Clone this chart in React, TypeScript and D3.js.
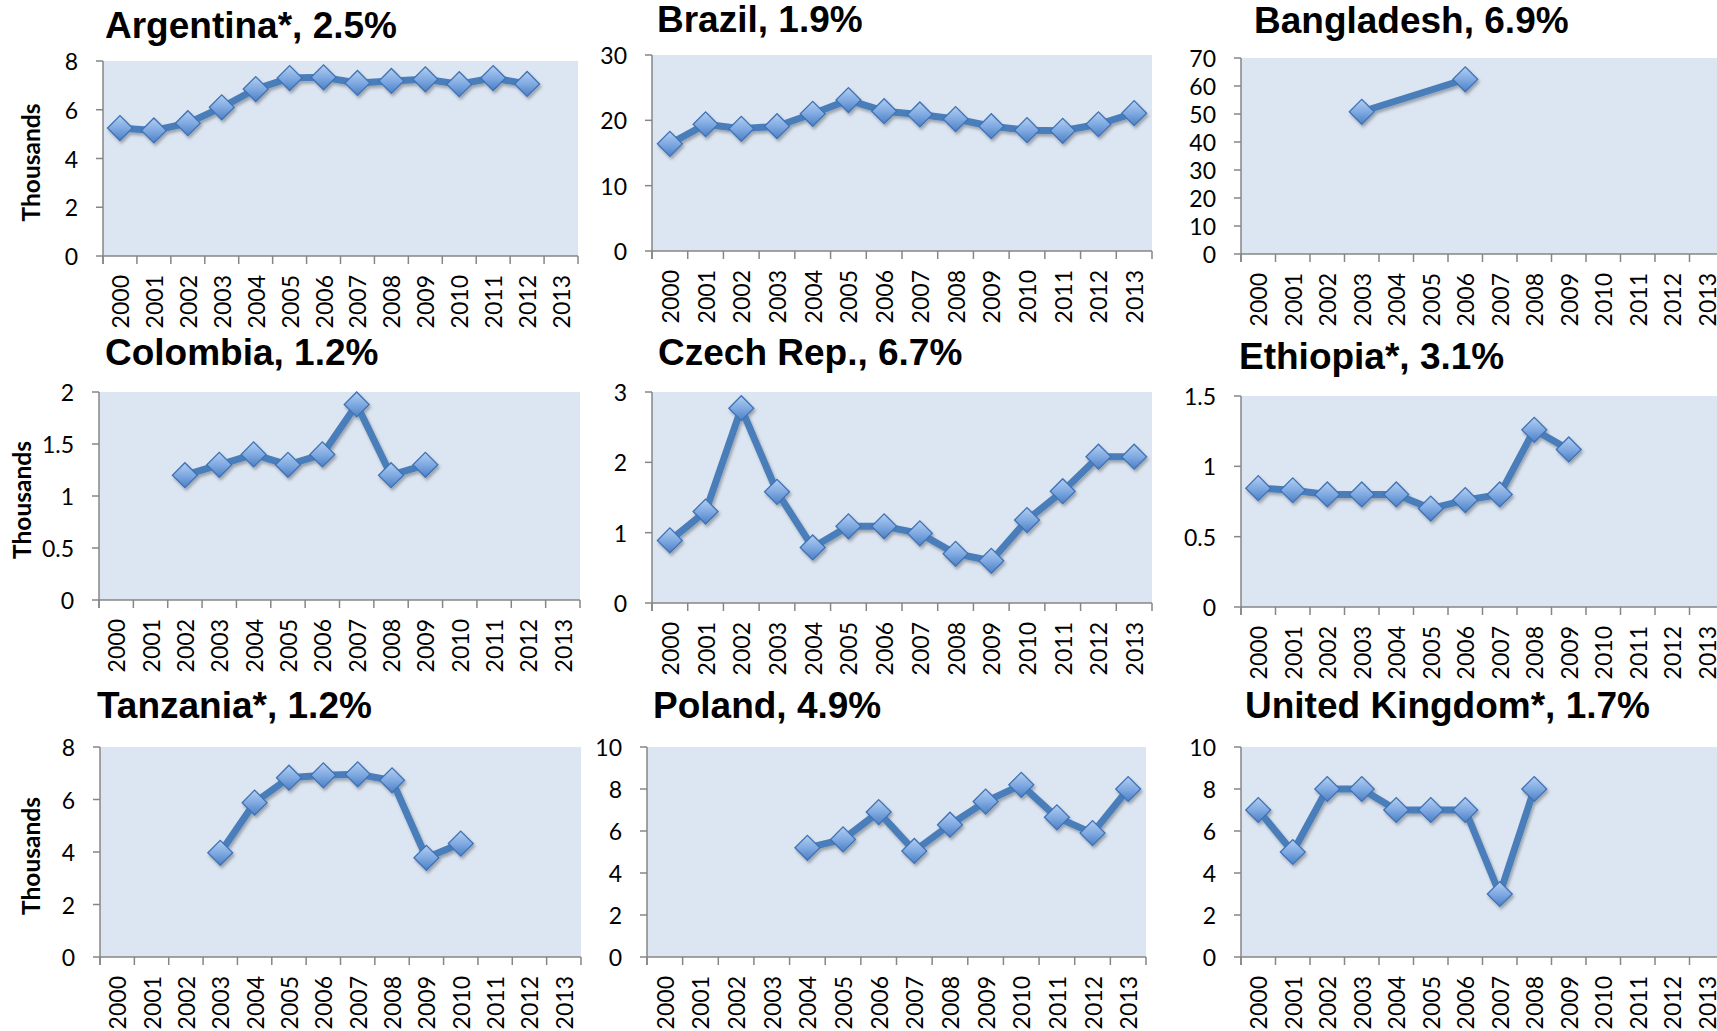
import React from "react";
import * as d3 from "d3";

// years on the category axis
const years = ["2000", "2001", "2002", "2003", "2004", "2005", "2006", "2007", "2008", "2009", "2010", "2011", "2012", "2013"];

// values in thousands, null = no data
const argentina = [5.25, 5.15, 5.45, 6.1, 6.85, 7.3, 7.33, 7.1, 7.18, 7.25, 7.05, 7.3, 7.06, null];
const brazil = [16.4, 19.4, 18.7, 19.1, 21.0, 23.1, 21.4, 20.9, 20.2, 19.1, 18.5, 18.4, 19.4, 21.1];
const bangladesh = [null, null, null, 50.8, null, null, 62.4, null, null, null, null, null, null, null];
const colombia = [null, null, 1.2, 1.3, 1.4, 1.3, 1.4, 1.88, 1.2, 1.3, null, null, null, null];
const czech = [0.89, 1.3, 2.77, 1.58, 0.79, 1.09, 1.09, 0.99, 0.7, 0.6, 1.18, 1.59, 2.08, 2.08];
const ethiopia = [0.845, 0.83, 0.8, 0.8, 0.8, 0.7, 0.76, 0.8, 1.26, 1.12, null, null, null, null];
const tanzania = [null, null, null, 3.97, 5.88, 6.83, 6.92, 6.96, 6.73, 3.78, 4.32, null, null, null];
const poland = [null, null, null, null, 5.2, 5.6, 6.9, 5.05, 6.3, 7.4, 8.2, 6.65, 5.9, 8.0];
const uk = [7.0, 5.0, 8.0, 8.0, 7.0, 7.0, 7.0, 3.0, 8.0, null, null, null, null, null];

const titles = [
  "Argentina*, 2.5%", "Brazil, 1.9%", "Bangladesh, 6.9%",
  "Colombia, 1.2%", "Czech Rep., 6.7%", "Ethiopia*, 3.1%",
  "Tanzania*, 1.2%", "Poland, 4.9%", "United Kingdom*, 1.7%",
];
const seriesList = [argentina, brazil, bangladesh, colombia, czech, ethiopia, tanzania, poland, uk];
const yMax = [8, 30, 70, 2, 3, 1.5, 8, 10, 10];
const yStep = [2, 10, 10, 0.5, 1, 0.5, 2, 2, 2];
const showThousands = [true, false, false, true, false, false, true, false, false];

// layout of each panel (plot box, title, axis label)
const layout = [
  { x0: 103, x1: 578, y0: 61, y1: 256, tx: 105, ty: 38, lx: 30 },
  { x0: 652, x1: 1152, y0: 55, y1: 251, tx: 657, ty: 32 },
  { x0: 1241, x1: 1724, y0: 58, y1: 254, tx: 1254, ty: 33 },
  { x0: 99, x1: 580, y0: 392, y1: 600, tx: 105, ty: 365, lx: 21 },
  { x0: 652, x1: 1152, y0: 392, y1: 603, tx: 658, ty: 365 },
  { x0: 1241, x1: 1724, y0: 396, y1: 607, tx: 1239, ty: 369 },
  { x0: 100, x1: 581, y0: 747, y1: 957, tx: 97, ty: 718, lx: 30 },
  { x0: 647, x1: 1146, y0: 747, y1: 957, tx: 653, ty: 718 },
  { x0: 1241, x1: 1724, y0: 747, y1: 957, tx: 1245, ty: 718 },
];

const BG = "#dce6f2";
const AXIS = "#868686";
const LINE = "#4a7ebb";
const tickFont = "Lato, 'Open Sans', sans-serif";
const titleFont = "'Liberation Sans', Arial, sans-serif";

const diamond = d3.symbol(d3.symbolSquare, 310)();

function Panel({ i }: { i: number }) {
  const L = layout[i];
  const values = seriesList[i];
  const x = d3.scaleBand().domain(years).range([L.x0, L.x1]);
  const y = d3.scaleLinear().domain([0, yMax[i]]).range([L.y1, L.y0]);
  const ticks = d3.range(0, yMax[i] + yStep[i] / 2, yStep[i]);
  const pts = years
    .map((yr, k) => ({ yr, v: values[k] }))
    .filter((d) => d.v !== null) as { yr: string; v: number }[];
  const line = d3
    .line<{ yr: string; v: number }>()
    .x((d) => (x(d.yr) as number) + x.bandwidth() / 2)
    .y((d) => y(d.v));
  const bounds = years.map((yr) => x(yr) as number).concat([L.x1]);

  return (
    <g>
      <text x={L.tx} y={L.ty} fontFamily={titleFont} fontWeight="bold" fontSize={37} fill="#000">
        {titles[i]}
      </text>
      <rect x={L.x0} y={L.y0} width={L.x1 - L.x0} height={L.y1 - L.y0} fill={BG} />
      {/* y axis */}
      <line x1={L.x0} x2={L.x0} y1={L.y0} y2={L.y1 + 8} stroke={AXIS} strokeWidth={1.5} />
      {ticks.map((t) => (
        <g key={t}>
          <line x1={L.x0 - 7} x2={L.x0} y1={y(t)} y2={y(t)} stroke={AXIS} strokeWidth={1.5} />
          <text
            x={L.x0 - 25}
            y={y(t)}
            textAnchor="end"
            dominantBaseline="central"
            fontFamily={tickFont}
            fontSize={23}
            fill="#000"
          >
            {t}
          </text>
        </g>
      ))}
      {/* x axis */}
      <line x1={L.x0} x2={L.x1} y1={L.y1} y2={L.y1} stroke={AXIS} strokeWidth={1.5} />
      {bounds.map((bx, k) => (
        <line key={k} x1={bx} x2={bx} y1={L.y1} y2={L.y1 + 8} stroke={AXIS} strokeWidth={1.5} />
      ))}
      {years.map((yr) => {
        const cx = (x(yr) as number) + x.bandwidth() / 2;
        const cy = L.y1 + 19;
        return (
          <text
            key={yr}
            transform={`translate(${cx},${cy}) rotate(-90)`}
            textAnchor="end"
            dominantBaseline="central"
            fontFamily={tickFont}
            fontSize={23}
            fill="#000"
          >
            {yr}
          </text>
        );
      })}
      {showThousands[i] && (
        <text
          transform={`translate(${L.lx},${(L.y0 + L.y1) / 2 + 4}) rotate(-90)`}
          textAnchor="middle"
          dominantBaseline="central"
          fontFamily={tickFont}
          fontWeight="bold"
          fontSize={24.5}
          fill="#000"
        >
          Thousands
        </text>
      )}
      <g filter="url(#shadow)">
        <path d={line(pts) || ""} fill="none" stroke={LINE} strokeWidth={7} strokeLinejoin="round" />
        {pts.map((d) => (
          <path
            key={d.yr}
            d={diamond}
            transform={`translate(${(x(d.yr) as number) + x.bandwidth() / 2},${y(d.v)}) rotate(45)`}
            fill="url(#markerFill)"
            stroke="#3f72b5"
            strokeWidth={1.3}
          />
        ))}
      </g>
    </g>
  );
}

export default function App() {
  return (
    <svg
      width={1717}
      height={1031}
      style={{ position: "absolute", left: 0, top: 0, background: "#fff" }}
    >
      <defs>
        <linearGradient id="markerFill" x1="0" y1="0" x2="1" y2="1">
          <stop offset="0%" stopColor="#b3cff0" />
          <stop offset="50%" stopColor="#80aae2" />
          <stop offset="100%" stopColor="#4d80c4" />
        </linearGradient>
        <filter id="shadow" x="-20%" y="-20%" width="140%" height="140%">
          <feDropShadow dx="1.5" dy="2.5" stdDeviation="1.5" floodColor="#000" floodOpacity="0.3" />
        </filter>
      </defs>
      {layout.map((_, i) => (
        <Panel key={i} i={i} />
      ))}
    </svg>
  );
}
